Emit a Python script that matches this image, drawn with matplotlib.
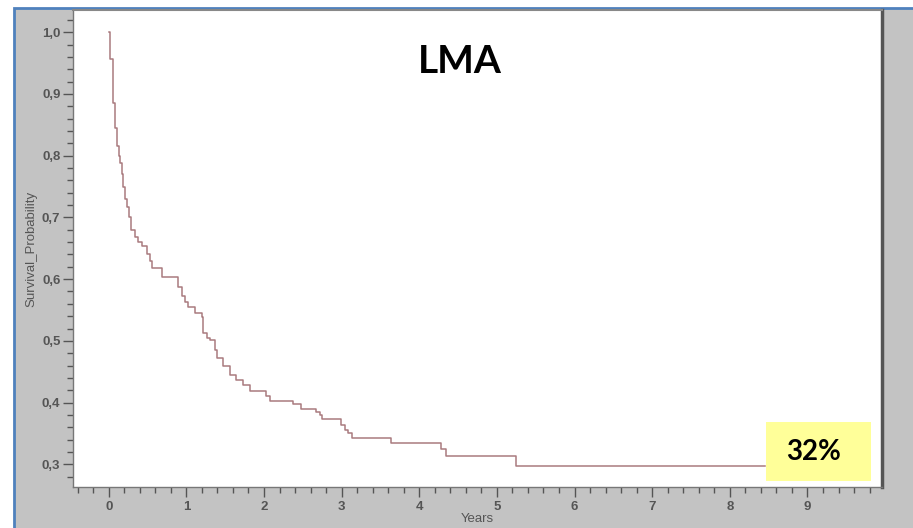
import matplotlib
matplotlib.use("Agg")
import matplotlib.pyplot as plt
from matplotlib.patches import Rectangle
from matplotlib.ticker import MultipleLocator, FuncFormatter

# Kaplan-Meier steps: (years, survival after the drop)
times = [0.0, 0.02, 0.05, 0.075, 0.105, 0.13, 0.148, 0.167, 0.186, 0.21, 0.234,
         0.257, 0.285, 0.34, 0.383, 0.427, 0.49, 0.533, 0.555, 0.684, 0.897,
         0.94, 0.983, 1.026, 1.11, 1.198, 1.218, 1.26, 1.305, 1.369, 1.39,
         1.47, 1.56, 1.64, 1.73, 1.82, 2.03, 2.08, 2.375, 2.48, 2.676, 2.72,
         2.745, 2.997, 3.04, 3.08, 3.13, 3.64, 4.283, 4.347, 5.247, 8.45]
surv = [1.0, 0.957, 0.885, 0.845, 0.815, 0.80, 0.788, 0.77, 0.749, 0.73, 0.717,
        0.70, 0.68, 0.669, 0.66, 0.653, 0.64, 0.63, 0.618, 0.604, 0.588,
        0.572, 0.563, 0.555, 0.545, 0.539, 0.512, 0.505, 0.501, 0.485, 0.472,
        0.46, 0.445, 0.436, 0.428, 0.418, 0.41, 0.403, 0.397, 0.39, 0.384, 0.38,
        0.373, 0.364, 0.356, 0.351, 0.343, 0.335, 0.324, 0.314, 0.298, 0.298]

title = "LMA"
final_label = "32%"
x_ticks = list(range(0, 10))
y_ticks = [0.3, 0.4, 0.5, 0.6, 0.7, 0.8, 0.9, 1.0]

W, H = 913, 528
fig = plt.figure(figsize=(W / 100, H / 100), dpi=100, facecolor="white")

# grey panel with the blue frame on the left and top
fig.patches.append(Rectangle((14 / W, -0.01), 1.0, 1 - 8 / H + 0.01,
                             transform=fig.transFigure, facecolor="#c3c3c3",
                             edgecolor="#4f81bd", linewidth=2, zorder=-10))

ax = fig.add_axes([73 / W, (H - 487) / H, (882 - 73) / W, (487 - 10) / H])
ax.set_facecolor("white")

ax.step(times, surv, where="post", color="#a97a7e", linewidth=1.1)

ax.set_xlim(-0.46, 9.96)
ax.set_ylim(0.2632, 1.0361)

ax.xaxis.set_major_locator(MultipleLocator(1))
ax.xaxis.set_minor_locator(MultipleLocator(0.2))
ax.yaxis.set_major_locator(MultipleLocator(0.1))
ax.yaxis.set_minor_locator(MultipleLocator(0.02))
ax.set_xticks(x_ticks)
ax.set_yticks(y_ticks)
ax.yaxis.set_major_formatter(FuncFormatter(lambda v, p: ("%.1f" % v).replace(".", ",")))

ax.tick_params(which="major", length=7, width=1, color="#555555",
               labelsize=9.5, labelcolor="#555555")
ax.tick_params(which="minor", length=4, width=1, color="#555555")
ax.tick_params(axis="x", pad=3)
ax.tick_params(axis="y", pad=2)
for lab in ax.get_xticklabels() + ax.get_yticklabels():
    lab.set_family("Liberation Sans")
    lab.set_fontweight("bold")

for s in ["left", "bottom"]:
    ax.spines[s].set_color("#777777")
    ax.spines[s].set_linewidth(1)
ax.spines["top"].set_color("#888888")
ax.spines["top"].set_linewidth(1.5)
ax.spines["right"].set_color("#555555")
ax.spines["right"].set_linewidth(2.5)

ax.set_xlabel("Years", fontsize=9.5, color="#555555", labelpad=0,
              family="Liberation Sans")
ax.set_ylabel("Survival_Probability", fontsize=9.5, color="#555555", labelpad=3,
              family="Liberation Sans")

ax.text(0.478, 0.891, title, transform=ax.transAxes, ha="center", va="center",
        fontsize=28, fontweight="bold", family="Lato", color="black")

ax.add_patch(Rectangle((0.8566, 0.0126), 0.1298, 0.1237, transform=ax.transAxes,
                       facecolor="#ffff99", edgecolor="none", zorder=5,
                       clip_on=False))
ax.text(0.915, 0.073, final_label, transform=ax.transAxes, ha="center", va="center",
        fontsize=20, fontweight="bold", family="Lato", color="black", zorder=6)

fig.savefig("out.png", dpi=100)
